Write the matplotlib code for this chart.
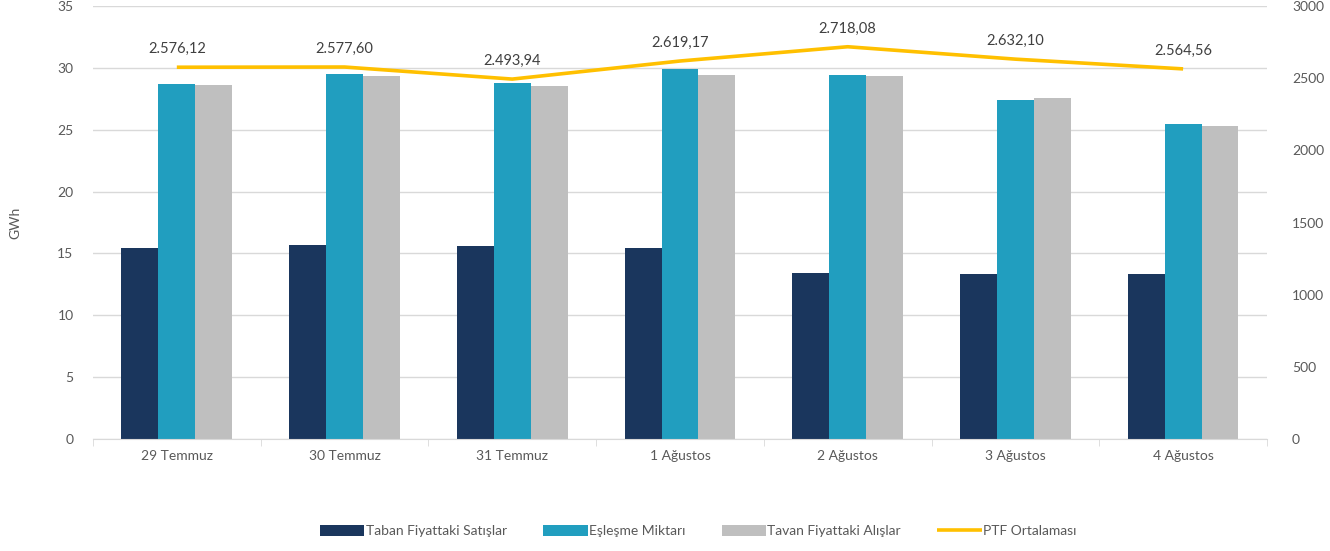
import matplotlib
matplotlib.use("Agg")
import matplotlib.pyplot as plt
import numpy as np
from matplotlib.ticker import FixedLocator

plt.rcParams['font.family'] = ['Lato', 'DejaVu Sans']

categories = ["29 Temmuz", "30 Temmuz", "31 Temmuz", "1 Ağustos", "2 Ağustos", "3 Ağustos", "4 Ağustos"]
taban = [15.44, 15.68, 15.60, 15.44, 13.42, 13.34, 13.34]
esleme = [28.70, 29.50, 28.78, 29.91, 29.43, 27.40, 25.46]
tavan = [28.62, 29.35, 28.54, 29.43, 29.35, 27.57, 25.30]
ptf = [2576.12, 2577.60, 2493.94, 2619.17, 2718.08, 2632.10, 2564.56]
ptf_labels = ["2.576,12", "2.577,60", "2.493,94", "2.619,17", "2.718,08", "2.632,10", "2.564,56"]
series_names = ["Taban Fiyattaki Satışlar", "Eşleşme Miktarı", "Tavan Fiyattaki Alışlar", "PTF Ortalaması"]

c_dark = "#1a365d"
c_teal = "#219ebf"
c_gray = "#bfbfbf"
c_line = "#ffc000"
txt = "#595959"

fig = plt.figure(figsize=(13.30, 5.51), dpi=100)
ax = fig.add_axes([0.0699, 0.2033, 0.8827, 0.7857])
x = np.arange(len(categories))
w = 0.22
b1 = ax.bar(x - w, taban, w, color=c_dark, label=series_names[0], zorder=2)
b2 = ax.bar(x, esleme, w, color=c_teal, label=series_names[1], zorder=2)
b3 = ax.bar(x + w, tavan, w, color=c_gray, label=series_names[2], zorder=2)
ax.set_xlim(-0.5, len(categories) - 0.5)
ax.set_ylim(0, 35)
ax.set_yticks(np.arange(0, 36, 5))
ax.grid(axis='y', color="#d9d9d9", linewidth=1, zorder=0)
ax.set_axisbelow(True)
for s in ['top', 'right', 'left']:
    ax.spines[s].set_visible(False)
ax.spines['bottom'].set_color("#d9d9d9")
ax.set_xticks(x)
ax.set_xticklabels(categories)
ax.tick_params(axis='x', which='major', length=0, pad=8, labelsize=10, labelcolor=txt)
ax.xaxis.set_minor_locator(FixedLocator(np.arange(-0.5, len(categories), 1.0)))
ax.tick_params(axis='x', which='minor', length=5, color="#d9d9d9")
ax.tick_params(axis='y', length=0, pad=14, labelsize=10, labelcolor=txt)
ax.set_ylabel("GWh", color=txt, fontsize=10, labelpad=26)

ax2 = ax.twinx()
ax2.set_ylim(0, 3000)
ax2.set_yticks(np.arange(0, 3001, 500))
for s in ['top', 'right', 'left', 'bottom']:
    ax2.spines[s].set_visible(False)
ax2.tick_params(axis='y', length=0, pad=18, labelsize=10, labelcolor=txt)
ln, = ax2.plot(x, ptf, color=c_line, linewidth=2.6, label=series_names[3], zorder=3, solid_capstyle='butt')
for xi, v, lab in zip(x, ptf, ptf_labels):
    ax2.annotate(lab, (xi, v), xytext=(0, 8), textcoords='offset points', ha='center', va='bottom',
                 fontsize=10.5, color="#404040")

handles = [b1, b2, b3, ln]
fig.legend(handles, series_names, loc='center', bbox_to_anchor=(0.525, 0.036), ncol=4, frameon=False,
           fontsize=10, labelcolor=txt, handlelength=3.2, handleheight=0.8, handletextpad=0.1, columnspacing=2.6)

fig.savefig("out.png", dpi=100, facecolor="white")
